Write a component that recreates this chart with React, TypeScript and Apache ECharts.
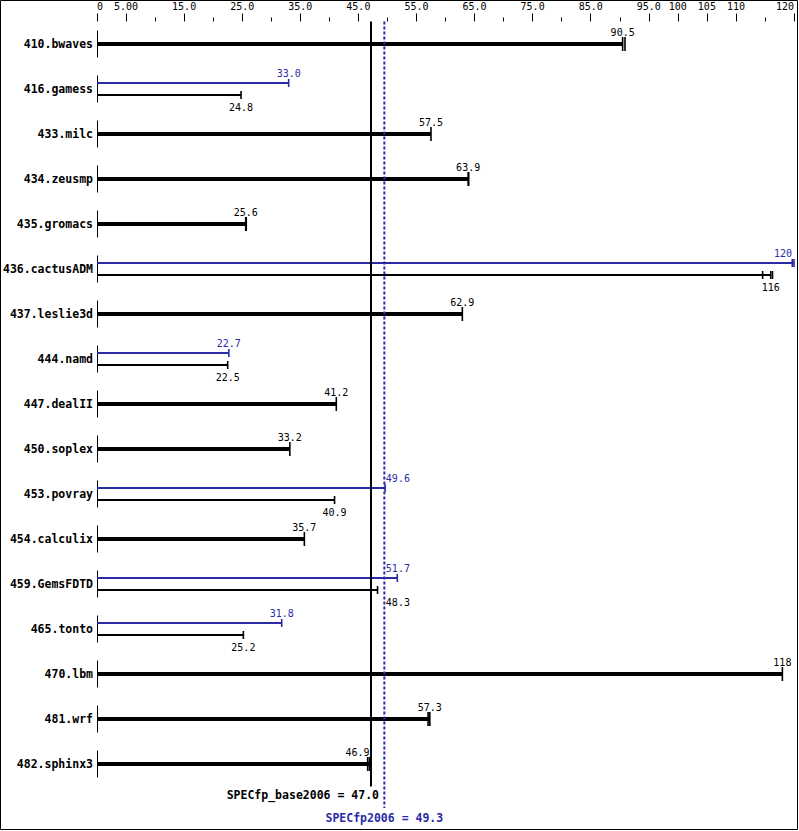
import React, { useEffect, useRef } from "react";
import * as echarts from "echarts";

const benchmarks = [
  "410.bwaves", "416.gamess", "433.milc", "434.zeusmp", "435.gromacs",
  "436.cactusADM", "437.leslie3d", "444.namd", "447.dealII", "450.soplex",
  "453.povray", "454.calculix", "459.GemsFDTD", "465.tonto", "470.lbm",
  "481.wrf", "482.sphinx3",
];
const baseValues = [90.5, 24.8, 57.5, 63.9, 25.6, 116, 62.9, 22.5, 41.2, 33.2, 40.9, 35.7, 48.3, 25.2, 118, 57.3, 46.9];
const peakValues: (number | null)[] = [null, 33.0, null, null, null, 120, null, 22.7, null, null, 49.6, null, 51.7, 31.8, null, null, null];
const baseRuns = [
  [90.5, 90.9], [24.8], [57.5], [63.9, 64.0], [25.6, 25.7], [114.6, 116, 116.3], [62.9], [22.5], [41.2],
  [33.2], [40.9], [35.7], [48.3], [25.2], [118], [57.0, 57.3], [46.6, 46.9],
];
const peakRuns = [
  [], [33.0], [], [], [], [119.7, 120], [], [22.7], [], [], [49.6], [], [51.7], [31.8], [], [], [],
];
const baseLabels = ["90.5", "24.8", "57.5", "63.9", "25.6", "116", "62.9", "22.5", "41.2", "33.2", "40.9", "35.7", "48.3", "25.2", "118", "57.3", "46.9"];
const peakLabels = ["", "33.0", "", "", "", "120", "", "22.7", "", "", "49.6", "", "51.7", "31.8", "", "", ""];

const SPEC_BASE = 47.0;
const SPEC_PEAK = 49.3;
const baseMetricLabel = "SPECfp_base2006 = 47.0";
const peakMetricLabel = "SPECfp2006 = 49.3";

const tickValues = [0, 5, 15, 25, 35, 45, 55, 65, 75, 85, 95, 100, 105, 110, 120];
const tickLabels = ["0", "5.00", "15.0", "25.0", "35.0", "45.0", "55.0", "65.0", "75.0", "85.0", "95.0", "100", "105", "110", "120"];
const minorTickValues = [10, 20, 30, 40, 50, 60, 70, 80, 90, 115];

const MONO = '"DejaVu Sans Mono", "Liberation Mono", monospace';
const BLUE = "#2b2ba6";
const BLACK = "#000000";
const CHAR_W = 6.02;
const LINE_SHIFT = 1;

export default function App() {
  const ref = useRef<HTMLDivElement>(null);

  useEffect(() => {
    document.body.style.margin = "0";
    if (!ref.current) return;
    const chart = echarts.init(ref.current, null, { renderer: "svg" });

    const renderBars = (params: any, api: any) => {
      const i = params.dataIndex;
      const [x0, yc] = api.coord([0, i]);
      const xb = api.coord([SPEC_BASE, i])[0] + LINE_SHIFT;
      const xp = api.coord([SPEC_PEAK, i])[0] + LINE_SHIFT;
      const xMax = api.coord([120, i])[0];
      const lo = Math.min(xb, xp);
      const hi = Math.max(xb, xp);
      const children: any[] = [];
      const xs = Math.round(x0) + 0.5;

      children.push({
        type: "line",
        shape: { x1: xs, y1: yc - 13.5, x2: xs, y2: yc + 13.5 },
        style: { stroke: BLACK, lineWidth: 1 },
      });

      const labelLeft = (v: number, text: string) => {
        const x = api.coord([v, i])[0];
        const w = text.length * CHAR_W;
        let left = x - w / 2;
        const right = left + w;
        if (right > lo - 1 && left < hi + 1) {
          if (v > (SPEC_BASE + SPEC_PEAK) / 2) left = hi + 1.5;
          else left = lo - 1.5 - w;
        }
        if (left + w > xMax - 2) left = xMax - 2 - w;
        return left;
      };

      const drawBar = (
        v: number, runs: number[], y: number, thick: number, tickH: number,
        color: string, text: string, labelY: number
      ) => {
        const xe = api.coord([v, i])[0];
        children.push({
          type: "line",
          shape: { x1: x0, y1: y, x2: xe, y2: y },
          style: { stroke: color, lineWidth: thick },
        });
        runs.forEach((r) => {
          const xr = api.coord([r, i])[0];
          children.push({
            type: "line",
            shape: { x1: xr, y1: y - tickH / 2, x2: xr, y2: y + tickH / 2 },
            style: { stroke: color, lineWidth: 1.6 },
          });
        });
        children.push({
          type: "text",
          style: {
            text,
            x: labelLeft(v, text),
            y: labelY,
            fill: color,
            font: `10px ${MONO}`,
            align: "left",
            verticalAlign: "middle",
          },
        });
      };

      const peak = peakValues[i];
      if (peak == null) {
        drawBar(baseValues[i], baseRuns[i], yc, 4, 14, BLACK, baseLabels[i], yc - 11.5);
      } else {
        drawBar(peak, peakRuns[i], yc - 6, 2, 8, BLUE, peakLabels[i], yc - 16);
        drawBar(baseValues[i], baseRuns[i], yc + 6, 2, 8, BLACK, baseLabels[i], yc + 18);
      }
      return { type: "group", children };
    };

    const renderRefs = (params: any, api: any) => {
      const [xb0, yFirst] = api.coord([SPEC_BASE, 0]);
      const xb = xb0 + LINE_SHIFT;
      const yLast = api.coord([SPEC_BASE, benchmarks.length - 1])[1];
      const xp = api.coord([SPEC_PEAK, 0])[0] + LINE_SHIFT;
      const band = api.size([0, 1])[1];
      const top = yFirst - band / 2;
      const bottom = yLast + band / 2;
      return {
        type: "group",
        children: [
          {
            type: "line",
            shape: { x1: xb, y1: top, x2: xb, y2: bottom },
            style: { stroke: BLACK, lineWidth: 2 },
          },
          {
            type: "line",
            shape: { x1: xp, y1: top, x2: xp, y2: bottom + 21.5 },
            style: { stroke: BLUE, lineWidth: 2, lineDash: [3, 2] },
          },
          {
            type: "text",
            style: {
              text: baseMetricLabel,
              x: xb + 8,
              y: bottom + 8.5,
              fill: BLACK,
              font: `bold 11.5px ${MONO}`,
              align: "right",
              verticalAlign: "middle",
            },
          },
          {
            type: "text",
            style: {
              text: peakMetricLabel,
              x: xp,
              y: bottom + 31.5,
              fill: BLUE,
              font: `bold 11.5px ${MONO}`,
              align: "center",
              verticalAlign: "middle",
            },
          },
        ],
      };
    };

    chart.setOption({
      animation: false,
      backgroundColor: "#ffffff",
      grid: { left: 97, right: 5, top: 21.5, height: 765, containLabel: false, outerBoundsMode: "none" },
      xAxis: [
        {
          type: "value",
          position: "top",
          min: 0,
          max: 120,
          axisLine: { show: false },
          splitLine: { show: false },
          axisTick: { show: true, customValues: tickValues, length: 8, lineStyle: { color: BLACK, width: 1 } },
          axisLabel: {
            customValues: tickValues,
            formatter: (v: number) => {
              const k = tickValues.indexOf(v);
              return k >= 0 ? tickLabels[k] : "";
            },
            fontSize: 10,
            fontFamily: MONO,
            color: BLACK,
            margin: 10,
            alignMinLabel: "left",
            alignMaxLabel: "right",
          },
        },
        {
          type: "value",
          position: "top",
          offset: 0,
          min: 0,
          max: 120,
          axisLine: { show: false },
          splitLine: { show: false },
          axisTick: { show: true, customValues: minorTickValues, length: 4, lineStyle: { color: BLACK, width: 1 } },
          axisLabel: { show: false },
        },
      ],
      yAxis: {
        type: "category",
        data: benchmarks,
        inverse: true,
        axisLine: { show: false },
        axisTick: { show: false },
        splitLine: { show: false },
        axisLabel: {
          fontFamily: MONO,
          fontWeight: "bold",
          fontSize: 11.5,
          color: BLACK,
          margin: 4,
        },
      },
      graphic: [
        {
          type: "rect",
          silent: true,
          shape: { x: 0.5, y: 0.5, width: 797, height: 829 },
          style: { fill: "none", stroke: BLACK, lineWidth: 1 },
        },
      ],
      series: [
        {
          type: "custom",
          name: "runs",
          xAxisIndex: 0,
          yAxisIndex: 0,
          renderItem: renderBars,
          data: benchmarks.map((_, i) => [baseValues[i], i]),
          encode: { x: 0, y: 1 },
          clip: false,
        },
        {
          type: "custom",
          name: "metrics",
          xAxisIndex: 0,
          yAxisIndex: 0,
          renderItem: renderRefs,
          data: [[SPEC_BASE, 0]],
          encode: { x: 0, y: 1 },
          clip: false,
        },
      ],
    });

    return () => chart.dispose();
  }, []);

  return <div ref={ref} style={{ width: 799, height: 831, background: "#fff" }} />;
}
